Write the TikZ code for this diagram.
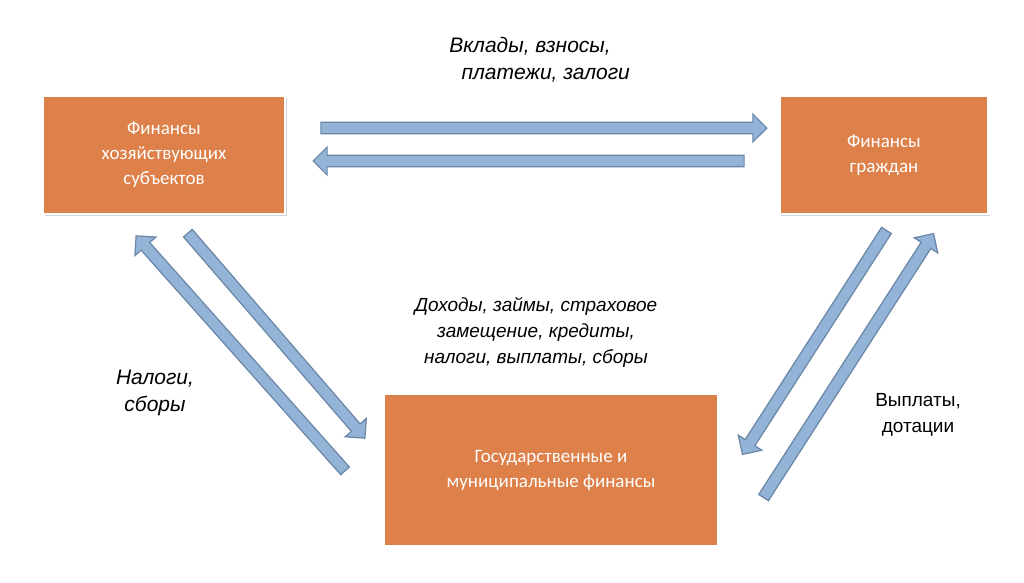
\documentclass[tikz,border=0pt]{standalone}
\usepackage{fontspec}
\setmainfont{Liberation Sans}
\newfontfamily\boxfont{Carlito}
\usetikzlibrary{shapes.arrows,calc}
\definecolor{boxor}{HTML}{DE8049}
\definecolor{arrfill}{HTML}{93B3D7}
\definecolor{arredge}{HTML}{6A86A6}
\tikzset{
 fbox/.style={draw=white,line width=2.5pt,fill=boxor,text=white,font=\boxfont\fontsize{19}{25}\selectfont,align=center,drop shadow={opacity=0.35,shadow xshift=1.5pt,shadow yshift=-1.5pt}},
 lbl/.style={font=\itshape\fontsize{21}{27}\selectfont,align=center},
 blk/.style={single arrow,draw=arredge,fill=arrfill,line width=1.2pt,inner sep=5pt,minimum width=28pt,single arrow head extend=8pt,single arrow tip angle=90,anchor=center}
}
\usetikzlibrary{shadows}
\newcommand\blockarrow[2]{\path let \p1=(#1),\p2=(#2),\n1={veclen(\x2-\x1,\y2-\y1)},\n2={atan2(\y2-\y1,\x2-\x1)} in node[blk,minimum height=\n1,rotate=\n2] at ($(#1)!0.5!(#2)$) {};}
\begin{document}
\begin{tikzpicture}[x=1pt,y=-1pt]
\useasboundingbox (0,0) rectangle (1024,582);
\node[fbox,minimum width=242pt,minimum height=118pt] (hs) at (164,155) {Финансы\\хозяйствующих\\субъектов};
\node[fbox,minimum width=209pt,minimum height=118pt] (fg) at (884,155) {Финансы\\граждан};
\node[fbox,minimum width=335pt,minimum height=153pt] (gm) at (551,470) {Государственные и\\муниципальные финансы};
\node[lbl] (l1) at (530,60) {Вклады, взносы,\\\hspace*{1.5em}платежи, залоги};
\node[lbl,font=\itshape\fontsize{19}{26}\selectfont] (l2) at (536,332) {Доходы, займы, страховое\\замещение, кредиты,\\налоги, выплаты, сборы};
\node[lbl] (l3) at (155,393) {Налоги,\\сборы};
\node[lbl,font=\fontsize{19}{26}\selectfont] (l4) at (918,415) {Выплаты,\\дотации};
\coordinate (a1s) at (318,128); \coordinate (a1e) at (764,128);
\coordinate (a2s) at (747,161); \coordinate (a2e) at (316,161);
\coordinate (a3s) at (186,231); \coordinate (a3e) at (363,436);
\coordinate (a4s) at (347,473); \coordinate (a4e) at (138,238);
\coordinate (a5s) at (888,228); \coordinate (a5e) at (744,452);
\coordinate (a6s) at (762,500); \coordinate (a6e) at (932,236);
\blockarrow{a1s}{a1e}
\blockarrow{a2s}{a2e}
\blockarrow{a3s}{a3e}
\blockarrow{a4s}{a4e}
\blockarrow{a5s}{a5e}
\blockarrow{a6s}{a6e}
\end{tikzpicture}
\end{document}
